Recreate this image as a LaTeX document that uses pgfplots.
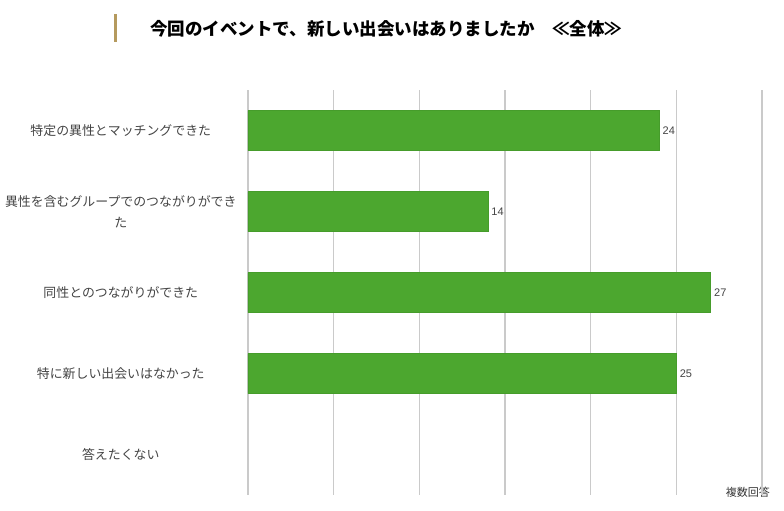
\documentclass[border=0pt]{standalone}
\usepackage{pgfplots}
\pgfplotsset{compat=1.18}
\usepackage{fontspec}
\setmainfont{Noto Sans CJK JP}
\newfontfamily\arial{Liberation Sans}
\definecolor{bargreen}{HTML}{4CA72F}
\definecolor{barline}{HTML}{469C2B}
\definecolor{gold}{HTML}{B59A5E}
\definecolor{gridgray}{HTML}{CACACA}
\definecolor{labelgray}{HTML}{444444}

\begin{document}
\begin{tikzpicture}[x=1pt,y=1pt]
\path[use as bounding box] (0,0) rectangle (784,511);
\fill[gold] (114,469) rectangle (117,497);
\node[anchor=west, inner sep=0pt, font=\fontsize{17.5}{20}\selectfont\bfseries]
  at (150,482) {今回のイベントで、新しい出会いはありましたか　≪全体≫};
\node[anchor=east, inner sep=0pt, font=\fontsize{11}{13}\selectfont, text=black!80]
  at (770,19) {複数回答};
\begin{axis}[
    at={(248pt,16pt)}, anchor=south west,
    scale only axis, width=514pt, height=405pt,
    xbar, bar width=40pt,
    xmin=0, xmax=30,
    ymin=-0.5, ymax=4.5, y dir=reverse,
    xtick={0,5,...,30}, xticklabels={},
    xmajorgrids,
    grid style={gridgray, line width=1.3pt},
    axis line style={draw=none},
    major tick length=0pt,
    ytick={0,1,2,3,4},
    yticklabels={特定の異性とマッチングできた,
      {異性を含むグループでのつながりができ\\た},
      同性とのつながりができた,
      特に新しい出会いはなかった,
      答えたくない},
    yticklabel style={text width=238pt, align=center, anchor=east,
      inner sep=0pt, xshift=-8pt,
      font=\fontsize{12.9}{21}\selectfont, text=labelgray},
    /pgf/number format/assume math mode=true,
    nodes near coords,
    nodes near coords style={font=\arial\fontsize{11}{13}\selectfont,
      text=labelgray},
    clip=false,
]
\addplot[fill=bargreen, draw=barline] coordinates {(24,0) (14,1) (27,2) (25,3)};
\end{axis}
\end{tikzpicture}
\end{document}
